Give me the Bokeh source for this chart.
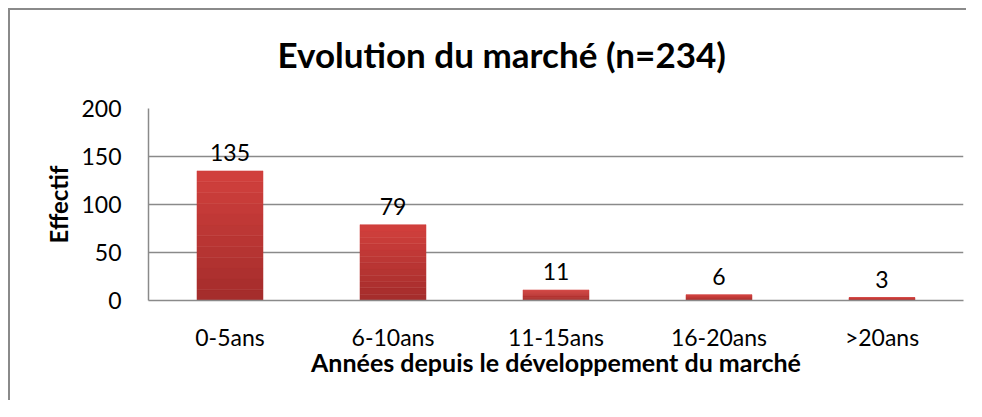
from bokeh.plotting import figure
from bokeh.layouts import column
from bokeh.models import ColumnDataSource, Range1d, FixedTicker, Title
from bokeh.core.properties import value
from bokeh.embed import file_html
from bokeh.resources import INLINE

categories = ["0-5ans", "6-10ans", "11-15ans", "16-20ans", ">20ans"]
counts = [135, 79, 11, 6, 3]
y_ticks = [0, 50, 100, 150, 200]

FONT = "Lato"
GRAY = "#8a8a8a"

p = figure(x_range=categories, y_range=Range1d(0, 200), width=966, height=400,
           output_backend="svg", toolbar_location=None, title=None)
p.min_border_left = 148
p.min_border_top = 108
p.min_border_right = 3
p.min_border_bottom = 100
p.outline_line_color = None
p.border_fill_color = None
p.background_fill_color = "white"

# gradient bars built from the data values (style slices)
N = 12
top_c = (0xD2, 0x40, 0x3D)
bot_c = (0xA3, 0x2C, 0x2B)
xs, bottoms, tops, colors = [], [], [], []
for c, v in zip(categories, counts):
    for i in range(N):
        t = (i + 0.5) / N
        col = tuple(int(round(bot_c[k] + (top_c[k] - bot_c[k]) * t)) for k in range(3))
        xs.append(c)
        bottoms.append(v * i / N)
        tops.append(v * (i + 1) / N)
        colors.append("#%02x%02x%02x" % col)
src = ColumnDataSource(dict(x=xs, bottom=bottoms, top=tops, color=colors))
p.vbar(x="x", bottom="bottom", top="top", width=0.405, fill_color="color",
       line_color="color", line_width=0.5, source=src)

lab = ColumnDataSource(dict(x=categories, y=counts, t=[str(v) for v in counts]))
p.text(x="x", y="y", text="t", source=lab, text_align="center",
       text_baseline="alphabetic", y_offset=-18, text_font=value(FONT),
       text_font_size="23px", text_color="#000000")

p.yaxis.ticker = FixedTicker(ticks=y_ticks)
p.ygrid.ticker = FixedTicker(ticks=y_ticks)
p.ygrid.grid_line_color = GRAY
p.ygrid.grid_line_width = 1.5
p.xgrid.grid_line_color = None

for ax in (p.xaxis[0], p.yaxis[0]):
    ax.axis_line_color = GRAY
    ax.axis_line_width = 1.5
    ax.major_tick_line_color = None
    ax.minor_tick_line_color = None
    ax.major_label_text_font = FONT
    ax.major_label_text_font_size = "23px"
    ax.major_label_text_color = "#000000"
    ax.axis_label_text_font = FONT
    ax.axis_label_text_font_style = "bold"
    ax.axis_label_text_color = "#000000"

p.xaxis.major_label_standoff = 16
p.xaxis.axis_label = "Années depuis le développement du marché"
p.xaxis.axis_label_text_font_size = "25px"
p.xaxis.axis_label_standoff = -7
p.yaxis.major_label_standoff = 21
p.yaxis.axis_label = "Effectif"
p.yaxis.axis_label_text_font_size = "24px"
p.yaxis.axis_label_standoff = 5

t = Title(text="Evolution du marché (n=234)", align="left", offset=129,
          vertical_align="top", text_font=FONT, text_font_size="35px",
          text_font_style="bold", text_color="#000000", standoff=64)
p.add_layout(t, "above")

# outer chart-area border (only its left and top edges are in view)
page = column(p, styles={
    "background": (
        f"linear-gradient({GRAY},{GRAY}) 8px 8px / 2px 100% no-repeat, "
        f"linear-gradient({GRAY},{GRAY}) 8px 8px / 100% 2px no-repeat, white"
    )
})

open("out.html", "w").write(file_html(page, INLINE))
